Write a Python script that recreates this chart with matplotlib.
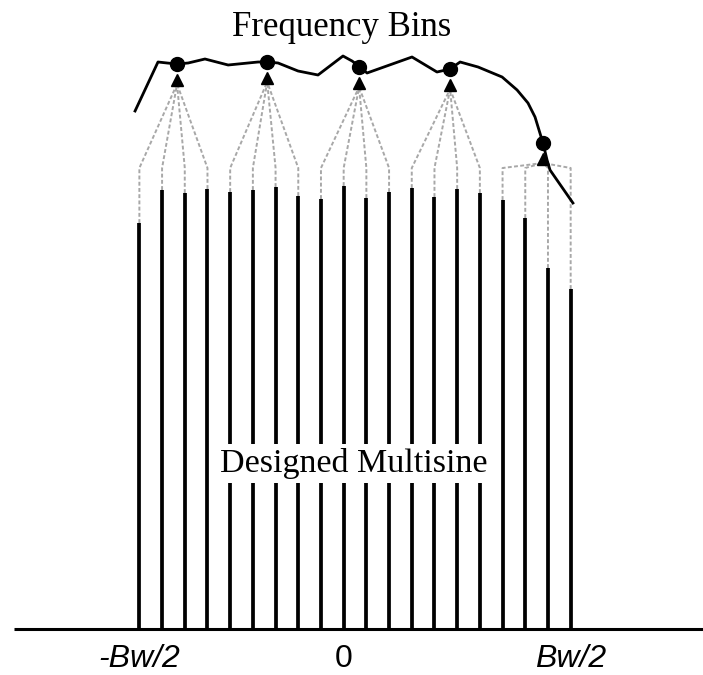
import matplotlib.pyplot as plt
import numpy as np

# multisine lines (index 0 = centre frequency) and their amplitudes
line_k = np.arange(-9, 11)
line_amp = [4.06, 4.39, 4.36, 4.40, 4.37, 4.39, 4.42, 4.33, 4.30, 4.43,
            4.31, 4.37, 4.41, 4.32, 4.40, 4.36, 4.29, 4.11, 3.61, 3.40]

# frequency bins: each one collects four consecutive lines
bin_k = [-7.34, -3.37, 0.68, 4.69, 8.78]
bin_amp = [5.65, 5.67, 5.62, 5.60, 4.86]
LINES_PER_BIN = 4

# measured spectrum running through the bins
curve_k = [-9.19, -8.18, -7.78, -7.34, -6.85, -6.11, -5.09, -3.77, -3.33, -2.89,
           -2.01, -1.13, -0.03, 0.37, 0.72, 1.03, 3.01, 4.11, 4.69, 5.13,
           5.92, 6.98, 7.64, 8.12, 8.43, 8.78, 8.96, 9.09, 10.10]
curve_amp = [5.18, 5.67, 5.66, 5.65, 5.66, 5.70, 5.64, 5.67, 5.67, 5.66,
             5.58, 5.54, 5.73, 5.68, 5.62, 5.56, 5.72, 5.57, 5.60, 5.67,
             5.62, 5.52, 5.39, 5.26, 5.12, 4.86, 4.69, 4.59, 4.26]

tick_k = [-9, 0, 10]
tick_labels = ["-Bw/2", "0", "Bw/2"]

KNEE = 4.61  # where the dashed guides start to bend towards the bin

fig = plt.figure(figsize=(7.03, 6.75), dpi=100)
ax = fig.add_axes([0, 0, 1, 1])
ax.set_xlim(-15.14, 15.83)
ax.set_ylim(-0.46, 6.29)
ax.axis("off")

# frequency axis
ax.plot([-14.52, 15.83], [0, 0], color="black", lw=2.2, solid_capstyle="butt")

# spectral lines
ax.vlines(line_k, 0, line_amp, color="black", lw=2.7)

# dashed guides from every line up to its bin
for b, (bk, ba) in enumerate(zip(bin_k, bin_amp)):
    apex_y = ba - 0.2
    for j in range(LINES_PER_BIN):
        idx = b * LINES_PER_BIN + j
        xk = line_k[idx]
        ax.plot([xk, xk, bk], [line_amp[idx], KNEE, apex_y],
                color="#a8a8a8", lw=1.4, linestyle=(0, (2, 1.2)), zorder=1)

# spectrum curve and bin markers
ax.plot(curve_k, curve_amp, color="black", lw=2.0, zorder=3)
ax.plot(bin_k, bin_amp, "o", color="black", ms=10, zorder=4)
ax.plot(bin_k, [a - 0.16 for a in bin_amp], "^", color="black", ms=9, zorder=4)

ax.text(-0.11, 5.93, "Frequency Bins", family="Liberation Serif", fontsize=25,
        ha="center", va="baseline")
ax.text(0.46, 1.57, "Designed Multisine", family="Liberation Serif", fontsize=24.5,
        ha="center", va="baseline", zorder=5,
        bbox=dict(facecolor="white", edgecolor="none", pad=3))

for k, lab in zip(tick_k, tick_labels):
    style = "normal" if lab == "0" else "italic"
    ax.text(k, -0.38, lab, family="Liberation Sans", style=style, fontsize=23,
            ha="center", va="baseline")

fig.savefig("out.png", dpi=100)
